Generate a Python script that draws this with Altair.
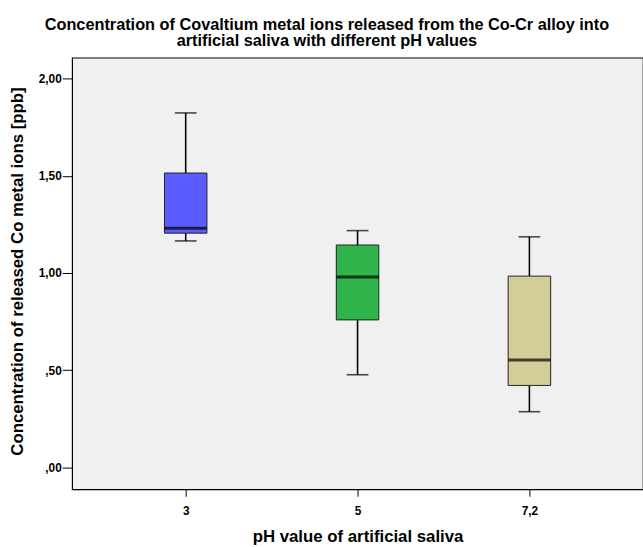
import altair as alt
import pandas as pd

# Box-plot summary per pH group (ppb)
groups = ["3", "5", "7,2"]
lower = [1.165, 0.477, 0.287]
q1 = [1.205, 0.759, 0.422]
median = [1.230, 0.979, 0.553]
q3 = [1.514, 1.144, 0.984]
upper = [1.823, 1.218, 1.186]
colors = ["#5A5CFF", "#2EB44A", "#D4CD98"]

df = pd.DataFrame({
    "ph": groups, "lower": lower, "q1": q1, "median": median,
    "q3": q3, "upper": upper, "color": colors,
})

FONT = "Liberation Sans"

x = alt.X(
    "ph:N",
    sort=groups,
    scale=alt.Scale(type="point", padding=0.661),
    axis=alt.Axis(
        title="pH value of artificial saliva",
        labelAngle=0,
        labelFont=FONT, labelFontSize=12, labelFontWeight="bold", labelColor="#000",
        titleFont=FONT, titleFontSize=17, titleFontWeight="bold", titleColor="#000",
        tickSize=7, tickColor="#000", labelPadding=9, titlePadding=13,
        domain=False, grid=False,
    ),
)

yscale = alt.Scale(domain=[-0.112, 2.107], nice=False, zero=False)
yaxis = alt.Axis(
    title="Concentration of released Co metal ions [ppb]",
    values=[0, 0.5, 1, 1.5, 2],
    labelExpr="datum.value < 1 ? slice(replace(format(datum.value, '.2f'), '.', ','), 1) : replace(format(datum.value, '.2f'), '.', ',')",
    labelFont=FONT, labelFontSize=12, labelFontWeight="bold", labelColor="#000",
    titleFont=FONT, titleFontSize=17, titleFontWeight="bold", titleColor="#000",
    tickSize=10, tickColor="#000", labelPadding=1,
    titleX=-46, titleY=216,
    domain=False, grid=False,
)

base = alt.Chart(df).encode(x=x)

whisker_lo = base.mark_rule(color="#000", strokeWidth=1.6).encode(
    y=alt.Y("lower:Q", scale=yscale, axis=yaxis), y2="q1:Q")
whisker_hi = base.mark_rule(color="#000", strokeWidth=1.6).encode(
    y=alt.Y("q3:Q"), y2="upper:Q")
caps_lo = base.mark_tick(color="#000", size=22, thickness=1.6, orient="horizontal").encode(
    y=alt.Y("lower:Q"))
caps_hi = base.mark_tick(color="#000", size=22, thickness=1.6, orient="horizontal").encode(
    y=alt.Y("upper:Q"))
boxes = base.mark_bar(size=43, stroke="#222", strokeWidth=1).encode(
    y=alt.Y("q1:Q"), y2="q3:Q",
    color=alt.Color("color:N", scale=None, legend=None))
medians = base.mark_tick(color="#000", size=43, thickness=3, orient="horizontal").encode(
    y=alt.Y("median:Q"))

chart = alt.layer(whisker_lo, whisker_hi, caps_lo, caps_hi, boxes, medians).properties(
    width=578,
    height=437,
    title=alt.TitleParams(
        text=["Concentration of Covaltium metal ions released from the Co-Cr alloy into",
              "artificial saliva with different pH values"],
        font=FONT, fontSize=16.5, fontWeight="bold", color="#000",
        anchor="middle", dx=-31, offset=8, lineHeight=17,
    ),
    autosize=alt.AutoSizeParams(type="none"),
    padding={"left": 73, "top": 55, "right": 0, "bottom": 55},
    background="white",
).configure_view(
    fill="#F0F0F0", stroke="#000", strokeWidth=1.2,
)

chart.save("out.html", embed_options={"renderer": "svg", "actions": False})
